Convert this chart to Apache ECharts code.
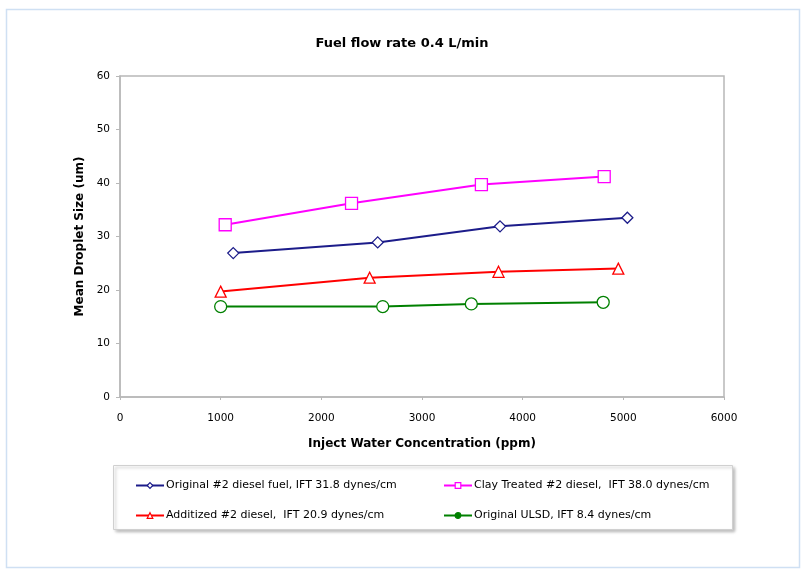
<!DOCTYPE html>
<html>
<head>
<meta charset="utf-8">
<script src="https://cdn.jsdelivr.net/npm/echarts@6/dist/echarts.min.js"></script>
<style>
html,body{margin:0;padding:0;background:#fff;}
#c{width:804px;height:570px;}
</style>
</head>
<body>
<div id="c"></div>
<script>
var titleText = 'Fuel flow rate 0.4 L/min';
var xAxisName = 'Inject Water Concentration (ppm)';
var yAxisName = 'Mean Droplet Size (um)';

var seriesNames = [
  'Original #2 diesel fuel, IFT 31.8 dynes/cm',
  'Clay Treated #2 diesel,  IFT 38.0 dynes/cm',
  'Additized #2 diesel,  IFT 20.9 dynes/cm',
  'Original ULSD, IFT 8.4 dynes/cm'
];

var originalX = [1125, 2560, 3775, 5040];
var originalY = [26.9, 28.9, 31.9, 33.5];

var clayX = [1045, 2300, 3590, 4810];
var clayY = [32.2, 36.2, 39.7, 41.2];

var additizedX = [1000, 2480, 3760, 4950];
var additizedY = [19.7, 22.3, 23.4, 24.0];

var ulsdX = [1000, 2610, 3490, 4800];
var ulsdY = [16.9, 16.9, 17.4, 17.7];

function pairs(xs, ys) { return xs.map(function (x, i) { return [x, ys[i]]; }); }

var chart = echarts.init(document.getElementById('c'), null, {renderer: 'canvas'});
var FONT = '"DejaVu Sans", "Liberation Sans", Arial, sans-serif';

function mk(name, xs, ys, color, symbol, size, fill) {
  return {
    name: name, type: 'line', data: pairs(xs, ys),
    symbol: symbol, symbolSize: size, showAllSymbol: true,
    lineStyle: {color: color, width: 2},
    itemStyle: {color: fill ? color : '#fff', borderColor: color, borderWidth: 1.3},
    emphasis: {disabled: true}, animation: false
  };
}

function legendData(names, fills, colors) {
  return names.map(function (n, i) {
    return {name: n, itemStyle: {color: fills[i] ? colors[i] : '#fff', borderColor: colors[i], borderWidth: 1.2}};
  });
}

chart.setOption({
  animation: false,
  backgroundColor: '#fff',
  title: {
    text: titleText, left: 'center', top: 32,
    textStyle: {fontFamily: FONT, fontSize: 13, fontWeight: 'bold', color: '#000'}
  },
  grid: {left: 120, right: 80, top: 76, bottom: 173, show: true, borderColor: '#b8b8b8', borderWidth: 1.5, backgroundColor: '#fff'},
  xAxis: {
    type: 'value', min: 0, max: 6000, interval: 1000,
    name: xAxisName, nameLocation: 'middle', nameGap: 41,
    nameTextStyle: {fontFamily: FONT, fontSize: 12, fontWeight: 'bold', color: '#000'},
    axisLine: {show: true, lineStyle: {color: '#b8b8b8', width: 1.5}},
    axisTick: {show: true, length: 3, lineStyle: {color: '#b8b8b8'}},
    axisLabel: {fontFamily: FONT, fontSize: 10.5, color: '#000', margin: 16, formatter: function (v) { return String(v); }},
    splitLine: {show: false}
  },
  yAxis: {
    type: 'value', min: 0, max: 60, interval: 10,
    name: yAxisName, nameLocation: 'middle', nameGap: 26, nameRotate: 90,
    nameTextStyle: {fontFamily: FONT, fontSize: 12, fontWeight: 'bold', color: '#000'},
    axisLine: {show: true, lineStyle: {color: '#b8b8b8', width: 1.5}},
    axisTick: {show: true, length: 4, lineStyle: {color: '#b8b8b8'}},
    axisLabel: {fontFamily: FONT, fontSize: 10.5, color: '#000', margin: 10},
    splitLine: {show: false}
  },
  legend: [
    {
      data: legendData([seriesNames[0], seriesNames[2]], [false, false], ['#1c1c8a', '#ff0000']),
      orient: 'vertical', left: 130, top: 475,
      itemGap: 19, itemWidth: 28, itemHeight: 7,
      textStyle: {fontFamily: FONT, fontSize: 11, color: '#000', padding: [0, 0, 0, -3]}
    },
    {
      data: legendData([seriesNames[1], seriesNames[3]], [false, true], ['#ff00ff', '#008000']),
      orient: 'vertical', left: 438, top: 475,
      itemGap: 19, itemWidth: 28, itemHeight: 7,
      textStyle: {fontFamily: FONT, fontSize: 11, color: '#000', padding: [0, 0, 0, -3]}
    }
  ],
  graphic: [
    {type: 'rect', z: -10, shape: {x: 6.5, y: 9.5, width: 793, height: 558}, style: {fill: '#fff', stroke: '#cfe0f3', lineWidth: 1.5}},
    {type: 'rect', z: -5, shape: {x: 113.5, y: 465.5, width: 619, height: 64},
      style: {fill: '#fff', stroke: '#d0d0d0', lineWidth: 1, shadowColor: 'rgba(0,0,0,0.25)', shadowBlur: 3, shadowOffsetX: 2, shadowOffsetY: 2}}
  ],
  series: [
    mk(seriesNames[0], originalX, originalY, '#1c1c8a', 'diamond', 11, false),
    mk(seriesNames[1], clayX, clayY, '#ff00ff', 'rect', 12, false),
    mk(seriesNames[2], additizedX, additizedY, '#ff0000', 'triangle', 11, false),
    mk(seriesNames[3], ulsdX, ulsdY, '#008000', 'circle', 12, false)
  ]
});
</script>
</body>
</html>
